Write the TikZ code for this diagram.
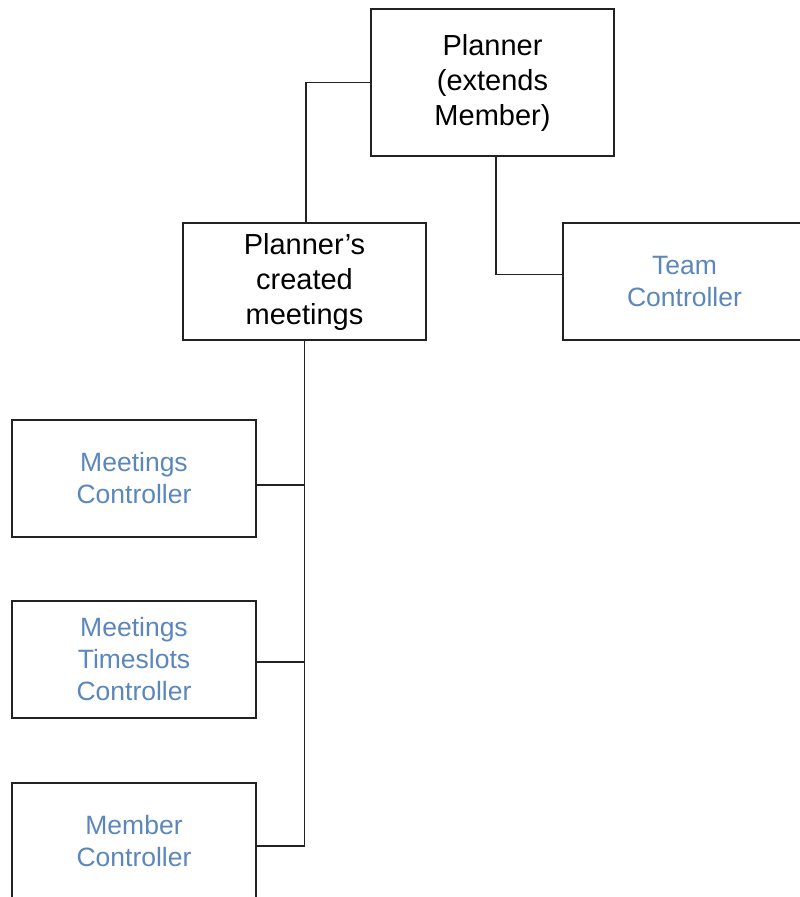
\documentclass[tikz,border=0pt]{standalone}
\usepackage{fontspec}
\setmainfont{Liberation Sans}
\definecolor{ctrlblue}{RGB}{91,135,189}
\definecolor{edgegray}{RGB}{34,34,34}
\begin{document}
\begin{tikzpicture}[x=1pt,y=-1pt,
  box/.style={draw=edgegray,line width=1.4pt,rectangle,inner sep=0pt,align=center,
    minimum width=243pt,minimum height=117pt},
  blacktext/.style={font=\fontsize{29}{35}\selectfont,text=black},
  bluetext/.style={font=\fontsize{26.5}{32}\selectfont,text=ctrlblue},
  conn/.style={draw=edgegray,line width=1.2pt}]
\useasboundingbox (0,0) rectangle (800,897);
\clip (0,0) rectangle (800,897);
\fill[white] (0,0) rectangle (800,897);
\node[box,blacktext,minimum height=147pt] (planner) at (492.5,82.5) {Planner\\(extends\\Member)};
\node[box,blacktext] (created) at (304.5,281.5) {Planner’s\\created\\meetings};
\node[box,bluetext] (team) at (684.5,281.5) {Team\\Controller};
\node[box,bluetext,minimum width=244pt] (mc) at (134,478.5) {Meetings\\Controller};
\node[box,bluetext,minimum width=244pt] (mtc) at (134,659.5) {Meetings\\Timeslots\\Controller};
\node[box,bluetext,minimum width=244pt] (mem) at (134,841.5) {Member\\Controller};
\draw[conn] (planner.west) -| ([xshift=1.5pt]created.north);
\draw[conn] ([xshift=3.5pt]planner.south) |- ([yshift=7pt]team.west);
\coordinate (memj) at ([yshift=-4.5pt]mem.east -| created.south);
\draw[conn] (created.south) -- (memj);
\draw[conn] ([yshift=-6.5pt]mc.east) -- ([yshift=-6.5pt]mc.east -| created.south);
\draw[conn] ([yshift=-2.5pt]mtc.east) -- ([yshift=-2.5pt]mtc.east -| created.south);
\draw[conn] ([yshift=-4.5pt]mem.east) -- (memj);
\end{tikzpicture}
\end{document}
